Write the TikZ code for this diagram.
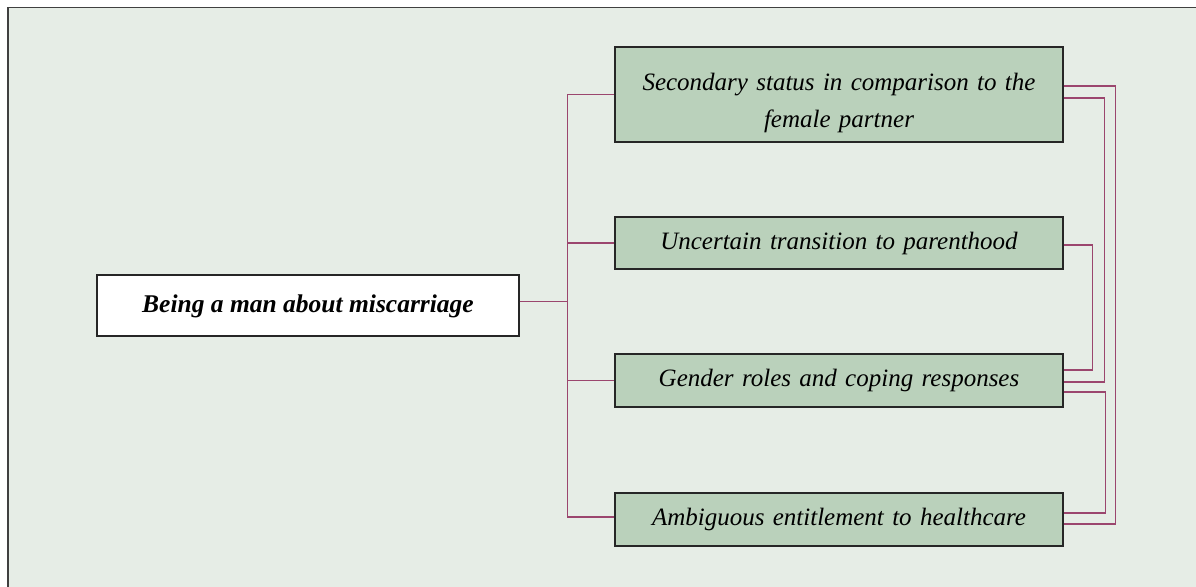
\documentclass[tikz,border=0pt]{standalone}
\usepackage{fontspec}
\setmainfont{Liberation Serif}
\definecolor{bgc}{RGB}{230,237,230}
\definecolor{boxc}{RGB}{186,209,187}
\definecolor{linec}{RGB}{155,70,110}
\tikzset{
  themetext/.style={align=center, text width=440pt, inner sep=0pt, font=\fontsize{25}{37}\selectfont\itshape},
  theme/.style={themetext, draw=black!85, line width=1.4pt, fill=boxc, minimum width=448pt},
  rootbox/.style={draw=black!85, line width=1.4pt, fill=white, minimum width=422pt, minimum height=61pt, align=center, inner sep=0pt, text height=19pt, text depth=5pt, font=\fontsize{25.5}{30}\selectfont\bfseries\itshape},
  link/.style={draw=linec, line width=1.5pt}
}
\begin{document}
\begin{tikzpicture}[x=1pt,y=-1pt]
\useasboundingbox (0,0) rectangle (1196,586);
\fill[white] (0,0) rectangle (1196,586);
\draw[fill=bgc, draw=black!75, line width=1.6pt] (8,7.5) rectangle (1210,600);
\node[rootbox] (root) at (308,305.5) {Being a man about miscarriage};
\node[theme, minimum height=95pt] (b1) at (839,94.5) {};
\node[themetext] (b1t) at ([yshift=-8pt]b1.center) {Secondary status in comparison to the\\female partner};
\node[theme, minimum height=52pt] (b2) at (839,243) {Uncertain transition to parenthood};
\node[theme, minimum height=53pt] (b3) at (839,380.5) {Gender roles and coping responses};
\node[theme, minimum height=53pt] (b4) at (839,519.5) {Ambiguous entitlement to healthcare};
% left tree
\draw[link] ([yshift=4pt]root.east) -- ++(48,0) coordinate (j);
\draw[link] (j) |- (b1.west);
\draw[link] (j) |- (b2.west);
\draw[link] (j) |- (b3.west);
\draw[link] (j) |- ([yshift=2.5pt]b4.west);
% right links
\draw[link] ([yshift=8.5pt]b1.east) -- ++(52,0) |- ([yshift=-4.5pt]b4.east);
\draw[link] ([yshift=-3.5pt]b1.east) -- ++(41,0) |- ([yshift=-1.5pt]b3.east);
\draw[link] ([yshift=-2pt]b2.east) -- ++(29,0) |- ([yshift=10.5pt]b3.east);
\draw[link] ([yshift=-11.5pt]b3.east) -- ++(42,0) |- ([yshift=6.5pt]b4.east);
\end{tikzpicture}
\end{document}
